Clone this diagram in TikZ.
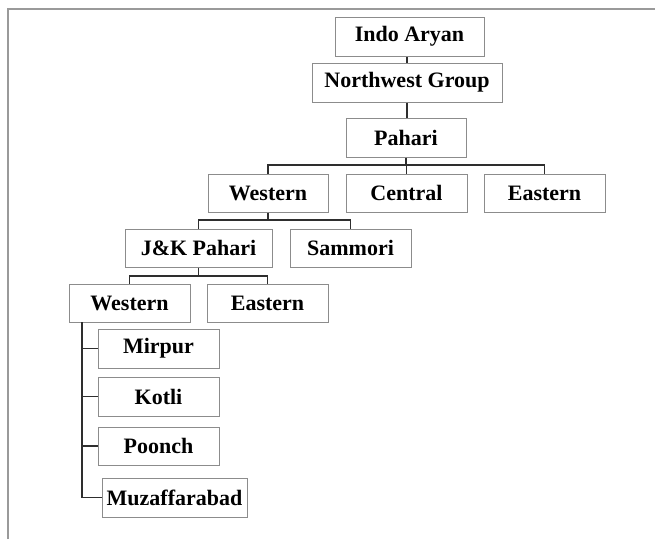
\documentclass[tikz,border=0pt]{standalone}
\usepackage{fontspec}
\setmainfont{Liberation Serif}
\definecolor{boxgray}{HTML}{8C8C8C}
\definecolor{linkgray}{HTML}{2E2E2E}
\definecolor{framegray}{HTML}{9A9A9A}
\tikzset{
    lang/.style={draw=boxgray, line width=1pt, fill=white, inner sep=0pt,
        minimum height=39pt, minimum width=121pt,
        font=\bfseries\fontsize{22}{26}\selectfont},
    link/.style={draw=linkgray, line width=1.3pt}
}
\begin{document}
\begin{tikzpicture}[x=1pt, y=-1pt]
    \useasboundingbox (0,0) rectangle (655,539);

    % Draw the frame
    \draw[framegray, line width=2pt] (8,539) -- (8,9) -- (655,9);

    % Top of the tree
    \node[lang, minimum width=149pt] (indo) at (409.5,36.5) {Indo Aryan};
    \node[lang, minimum width=190pt] (nw) at (407,82.5) {Northwest Group};
    \node[lang, minimum width=120pt] (pahari) at (406,137.5) {Pahari};

    \node[lang, minimum width=120pt, minimum height=38pt] (west) at (268,193) {Western};
    \node[lang, minimum height=38pt] (central) at (406.5,193) {Central};
    \node[lang, minimum height=38pt] (east) at (544.5,193) {Eastern};

    \node[lang, minimum width=147pt, minimum height=38pt] (jk) at (198.5,248) {J\&K Pahari};
    \node[lang, minimum height=38pt] (sammori) at (350.5,248) {Sammori};

    \node[lang, minimum height=38pt] (westb) at (129.5,303) {Western};
    \node[lang, minimum height=38pt] (eastb) at (267.5,303) {Eastern};

    % Western sub-branches
    \node[lang] (mirpur) at (158.5,348.5) {Mirpur};
    \node[lang] (kotli) at (158.5,396.5) {Kotli};
    \node[lang, minimum height=38pt] (poonch) at (158.5,446) {Poonch};
    \node[lang, minimum width=145pt] (muz) at (174.5,497.5) {Muzaffarabad};

    % Connectors
    \draw[link] (nw.north) -- (nw.north |- indo.south);
    \draw[link] (nw.south) -- (nw.south |- pahari.north);

    \coordinate (bus1) at (406,165);
    \draw[link] (pahari.south) -- (bus1);
    \draw[link] (west.north) |- (bus1) -| (east.north);
    \draw[link] (central.north) -- (central.north |- bus1);

    \coordinate (bus2) at (268,220);
    \draw[link] (west.south) -- (bus2);
    \draw[link] (jk.north) |- (bus2) -| (sammori.north);

    \coordinate (bus3) at (198.5,276);
    \draw[link] (jk.south) -- (bus3);
    \draw[link] (westb.north) |- (bus3) -| (eastb.north);

    \coordinate (trunk) at (82,322);
    \draw[link] (trunk) |- (muz.west);
    \foreach \n in {mirpur, kotli, poonch} {
        \draw[link] (trunk |- \n.west) -- (\n.west);
    }
\end{tikzpicture}
\end{document}
